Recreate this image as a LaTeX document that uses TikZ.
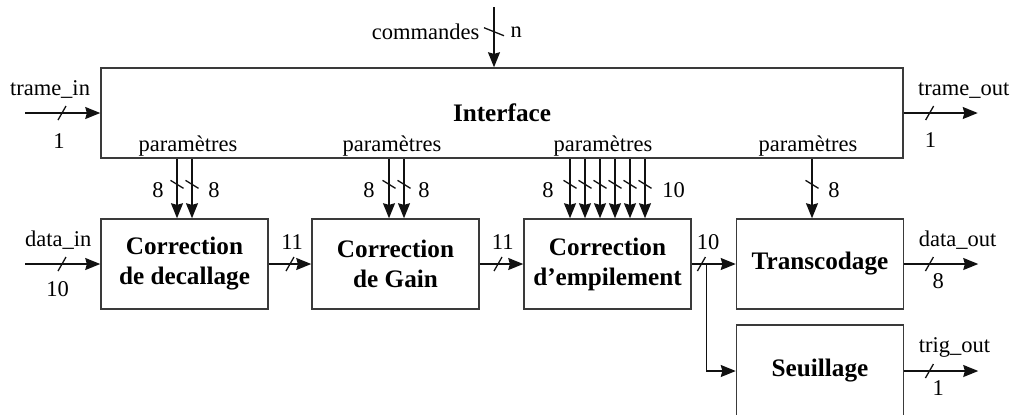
\documentclass[tikz,border=0pt]{standalone}
\usepackage{fontspec}
\setmainfont{Liberation Serif}
\usetikzlibrary{arrows.meta, positioning}
\definecolor{block-border}{HTML}{3A3A3A}
\definecolor{wire}{HTML}{111111}
\tikzset{
  block-node/.style={
    draw=block-border, line width=0.75pt,
    minimum width=83.5pt, minimum height=45pt, align=center,
    font=\fontsize{12.6}{15}\selectfont\bfseries
  },
  bus-edge/.style={-{Stealth[length=7.5pt, width=6pt, inset=0.8pt]}, line width=0.65pt, draw=wire},
  bus-label/.style={font=\fontsize{11.25}{13.5}\selectfont, inner sep=3.75pt},
  hbus/.pic={\draw[-, line width=0.65pt] (-4,7) -- (4,-7);},
  vbus/.pic={\draw[-, line width=0.65pt] (-6.5,-4) -- (6.5,4);},
  cbus/.pic={\draw[-, line width=0.65pt] (-10,-4) -- (10,4);}
}

\begin{document}
\begin{tikzpicture}[x=0.5pt, y=-0.5pt]
  \useasboundingbox (0,0) rectangle (1010,414);

  % blocs
  \node[block-node, minimum width=401pt] (iface) at (502,113) {Interface};
  \node[block-node] (corr1)  at (184.5,264) {Correction\\de decallage};
  \node[block-node] (corr2)  at (395.5,264) {Correction\\de Gain};
  \node[block-node] (corr3)  at (607.5,264) {Correction\\d’empilement};
  \node[block-node] (transc) at (820,264)   {Transcodage};
  \node[block-node, minimum height=46pt] (seuil) at (820,371) {Seuillage};

  % extremites libres
  \coordinate[left=37.5pt of iface.west]  (trame-in);
  \coordinate[right=37pt of iface.east]   (trame-out);
  \coordinate[left=37.5pt of corr1.west]  (data-in);
  \coordinate[right=37pt of transc.east]  (data-out);
  \coordinate[right=37pt of seuil.east]   (trig-out);
  \coordinate[right=7.5pt of corr3.east]  (split);
  \coordinate (cmd) at (494,7);

  % interface
  \draw[bus-edge] (cmd) -- pic[pos=.41]{cbus}
    node[bus-label, pos=.41, left=3.25pt] (lbl-cmd) {commandes}
    node[bus-label, pos=.41, right=4.25pt] (w-cmd) {n} (iface.north -| cmd);
  \draw[bus-edge] (trame-in) -- pic[pos=.49]{hbus}
    node[bus-label, pos=.33, above=3pt] (lbl-trin) {trame\_in}
    node[bus-label, pos=.45, below=6.25pt] (w-trin) {1} (iface.west);
  \draw[bus-edge] (iface.east) -- pic[pos=.35]{hbus}
    node[bus-label, pos=.81, above=3pt] (lbl-trout) {trame\_out}
    node[bus-label, pos=.36, below=5.75pt] (w-trout) {1} (trame-out);

  \node[bus-label, anchor=south, inner sep=1pt] (param1) at (iface.south -| 188,0) {paramètres};
  \node[bus-label, anchor=south, inner sep=1pt] (param2) at (iface.south -| 392,0) {paramètres};
  \node[bus-label, anchor=south, inner sep=1pt] (param3) at (iface.south -| 603,0) {paramètres};
  \node[bus-label, anchor=south, inner sep=1pt] (param4) at (iface.south -| 808,0) {paramètres};

  % parametres vers les blocs
  \foreach \x in {177,192}
    \draw[bus-edge] (iface.south -| \x,0) -- pic[pos=.43]{vbus} (corr1.north -| \x,0);
  \node[bus-label, left=2.75pt]  (w-p1a) at (177,190) {8};
  \node[bus-label, right=4.25pt] (w-p1b) at (192,190) {8};

  \foreach \x in {389,404}
    \draw[bus-edge] (iface.south -| \x,0) -- pic[pos=.43]{vbus} (corr2.north -| \x,0);
  \node[bus-label, left=3.25pt]  (w-p2a) at (389,190) {8};
  \node[bus-label, right=3.25pt] (w-p2b) at (404,190) {8};

  \foreach \x in {570,585,...,645}
    \draw[bus-edge] (iface.south -| \x,0) -- pic[pos=.43]{vbus} (corr3.north -| \x,0);
  \node[bus-label, left=4.25pt]  (w-p3a) at (570,190) {8};
  \node[bus-label, right=4.75pt] (w-p3b) at (645,190) {10};

  \draw[bus-edge] (iface.south -| 812,0) -- pic[pos=.43]{vbus} (transc.north -| 812,0);
  \node[bus-label, right=4.25pt] (w-p4) at (812,190) {8};

  % chaine de donnees
  \draw[bus-edge] (data-in) -- pic[pos=.49]{hbus}
    node[bus-label, pos=.44, above=3pt] (lbl-din) {data\_in}
    node[bus-label, pos=.43, below=4.75pt] (w-din) {10} (corr1.west);
  \draw[bus-edge] (corr1) -- pic[pos=.5]{hbus}
    node[bus-label, pos=.55, above=3pt] (w-c12) {11} (corr2);
  \draw[bus-edge] (corr2) -- pic[pos=.42]{hbus}
    node[bus-label, pos=.53, above=3pt] (w-c23) {11} (corr3);
  \draw[bus-edge] (corr3) -- pic[pos=.22]{hbus}
    node[bus-label, pos=.37, above=3pt] (w-c34) {10} (transc);
  \draw[bus-edge] (split) |- (seuil.west);

  % sorties
  \draw[bus-edge] (transc) -- pic[pos=.34]{hbus}
    node[bus-label, pos=.72, above=3pt] (lbl-dout) {data\_out}
    node[bus-label, pos=.46, below=0.75pt] (w-dout) {8} (data-out);
  \draw[bus-edge] (seuil) -- pic[pos=.34]{hbus}
    node[bus-label, pos=.68, above=3pt] (lbl-tout) {trig\_out}
    node[bus-label, pos=.46, below=0.75pt] (w-tout) {1} (trig-out);
\end{tikzpicture}
\end{document}
